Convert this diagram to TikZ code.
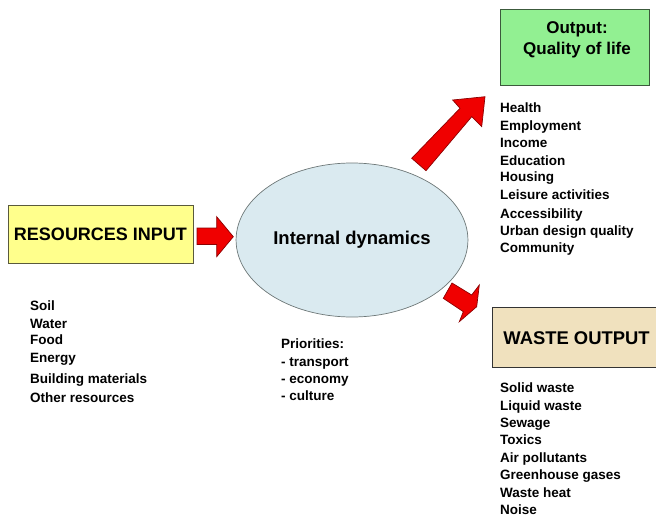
\documentclass[tikz,border=0pt]{standalone}
\usepackage{fontspec}
\setmainfont{Liberation Sans}
\usetikzlibrary{shapes.geometric}
\definecolor{resyellow}{RGB}{255,255,140}
\definecolor{resline}{RGB}{90,90,60}
\definecolor{outgreen}{RGB}{146,240,146}
\definecolor{outline}{RGB}{60,90,60}
\definecolor{wastetan}{RGB}{240,225,190}
\definecolor{ellblue}{RGB}{218,234,240}
\definecolor{ellline}{RGB}{110,120,120}
\definecolor{arrred}{RGB}{240,0,0}
\definecolor{arrdark}{RGB}{140,0,0}
\begin{document}
\begin{tikzpicture}[x=1pt,y=-1pt,
  lst/.style={anchor=base west,inner sep=0pt,font=\fontsize{13.5}{16}\selectfont\bfseries},
  box/.style={draw=#1,line width=0.8pt,inner sep=0pt},
  bigarrow/.style={fill=arrred,draw=arrdark,line width=0.7pt,line join=miter}]
\useasboundingbox (0,0) rectangle (656,516);
\clip (0,0) rectangle (656,516);
% boxes
\node[box=resline,fill=resyellow,minimum width=185pt,minimum height=58pt,
      font=\fontsize{18}{20}\selectfont\bfseries] (res) at (100.5,234) {RESOURCES INPUT};
\node[ellipse,draw=ellline,line width=0.7pt,fill=ellblue,minimum width=226pt,minimum height=154pt,
      font=\fontsize{18.5}{20}\selectfont\bfseries] (dyn) at (352,240) {Internal dynamics};
\node[box=outline,fill=outgreen,minimum width=149pt,minimum height=76pt] (outbox) at (574.5,47) {};
\node[align=center,inner sep=0pt,font=\fontsize{17}{21}\selectfont\bfseries] (outtxt) at (577,40) {Output:\\Quality of life};
\node[box=black!80,fill=wastetan,minimum width=170pt,minimum height=59.6pt,
      font=\fontsize{18.4}{20}\selectfont\bfseries] (waste) at (577.7,337.5) {};
\node[inner sep=0pt,font=\fontsize{18.4}{20}\selectfont\bfseries] (wastetxt) at (576.5,338) {WASTE OUTPUT};
% arrows
\coordinate (a1s) at (197,236.5);
\draw[bigarrow] (197,228) -- (216.7,228) -- (216.7,216.7) -- (233.3,236.7) -- (216.7,256.7) -- (216.7,244.5) -- (197,244.5) -- cycle;
\draw[bigarrow] (411.7,158.3) -- (460,108.3) -- (452.7,100) -- (485,96.7) -- (481.7,126.7) -- (471.7,116.7) -- (426,170.7) -- cycle;
\draw[bigarrow] (452,283) -- (471.7,295) -- (479.3,285) -- (476.7,306.7) -- (459.3,321.7) -- (463.3,311.7) -- (443.3,298.3) -- cycle;
% lists
\foreach \t/\y in {Health/108,Employment/126,Income/143,Education/160,Housing/177,
   Leisure activities/195,Accessibility/213,Urban design quality/230,Community/247}
  \node[lst] at (500,\y+5) {\t};
\foreach \t/\y in {Soil/305,Water/323,Food/339,Energy/357,Building materials/378,Other resources/397}
  \node[lst] at (30,\y+5) {\t};
\foreach \t/\y in {Priorities:/343,- transport/361,- economy/378,- culture/395}
  \node[lst] at (281,\y+5) {\t};
\foreach \t/\y in {Solid waste/387,Liquid waste/405,Sewage/422,Toxics/439,Air pollutants/457,
   Greenhouse gases/474,Waste heat/492,Noise/509}
  \node[lst] at (500,\y+5) {\t};
\end{tikzpicture}
\end{document}
